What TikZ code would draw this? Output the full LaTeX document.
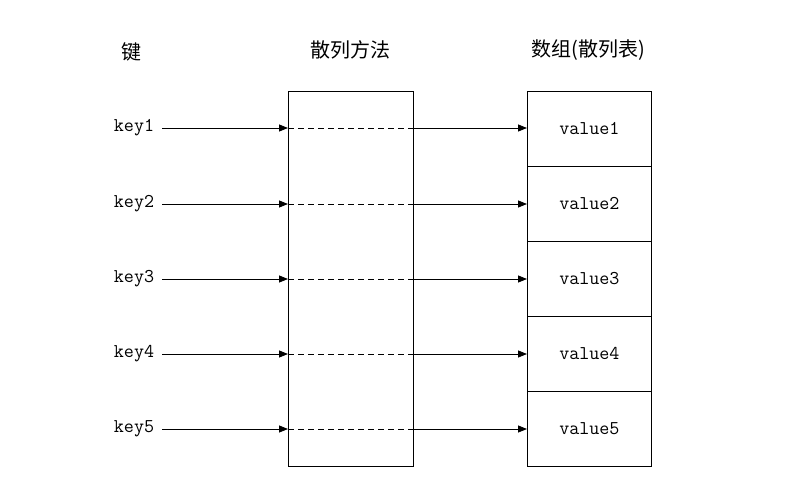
\documentclass[tikz,border=0pt]{standalone}
\usepackage{fontspec}
\newfontfamily\cjk{Noto Sans CJK SC}
\usetikzlibrary{arrows.meta}
\begin{document}
\begin{tikzpicture}[x=1pt,y=-1pt,
  lbl/.style={inner sep=0pt,font=\ttfamily\fontsize{19.5}{22}\selectfont},
  hdr/.style={inner sep=0pt,font=\cjk\fontsize{20}{23}\selectfont},
  cell/.style={draw,line width=0.8pt,minimum width=124pt,minimum height=75pt,inner sep=0pt,anchor=north west,font=\ttfamily\fontsize{19.5}{22}\selectfont},
  arr/.style={line width=0.8pt,-{Triangle[length=9pt,width=7pt]}},
  dsh/.style={line width=0.8pt,dash pattern=on 6pt off 4pt}]
\useasboundingbox (0,0) rectangle (800,500);
\node[hdr] (h1) at (131,52) {键};
\node[hdr] (h2) at (350,50) {散列方法};
\node[hdr] (h3) at (588,50) {数组(散列表)};
\node[draw,line width=0.8pt,minimum width=125pt,minimum height=375pt,inner sep=0pt,anchor=north west] (hash) at (288,91) {};
\foreach \i/\y in {1/128,2/204,3/279,4/354,5/429}{
  \node[lbl] (k\i) at (134,\y) {key\i};
  \node[cell] (v\i) at (527,{91+75*(\i-1)}) {value\i};
  \coordinate (a\i) at (hash.west |- k\i);
  \coordinate (b\i) at (hash.east |- k\i);
  \draw[arr] (k\i.east) ++(8,0) -- (a\i);
  \draw[dsh] (a\i) -- (b\i);
  \draw[arr] (b\i) -- (v\i.west |- k\i);
}
\end{tikzpicture}
\end{document}
